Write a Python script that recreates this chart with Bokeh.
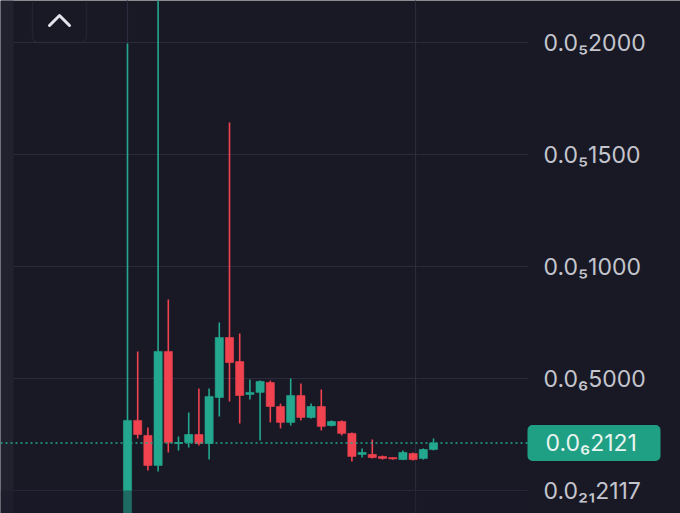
from bokeh.plotting import figure
from bokeh.models import ColumnDataSource, BoxAnnotation, Range1d
from bokeh.core.properties import value
from bokeh.embed import file_html
from bokeh.resources import INLINE

# ---------------- data (prices in units of 1e-7) ----------------
E7 = 1e-7
open_e7 = [-1.20, 3.13, 2.46, 1.12, 6.21, 2.10, 2.14, 2.50, 2.10, 4.15, 6.83,
           5.76, 4.29, 4.38, 4.82, 3.75, 3.04, 4.24, 3.26, 3.75, 2.90, 3.08,
           2.55, 1.61, 1.61, 1.52, 1.47, 1.38, 1.65, 1.43, 1.83]
close_e7 = [3.13, 2.50, 1.12, 6.21, 2.14, 2.14, 2.50, 2.10, 4.20, 6.83, 5.71,
            4.24, 4.38, 4.87, 3.75, 3.04, 4.24, 3.26, 3.75, 2.86, 3.08, 2.55,
            1.52, 1.70, 1.47, 1.43, 1.41, 1.70, 1.38, 1.83, 2.121]
high_e7 = [19.96, 6.21, 2.81, 23.00, 8.53, 2.41, 3.48, 4.55, 4.55, 7.50, 16.43,
           7.01, 4.96, 4.91, 4.91, 3.88, 5.00, 4.78, 3.88, 4.51, 3.13, 3.13,
           2.59, 1.88, 2.28, 1.56, 1.47, 1.79, 1.70, 1.88, 2.32]
low_e7 = [-1.20, 2.32, 0.89, 0.85, 1.70, 1.79, 1.92, 2.01, 1.38, 3.30, 3.97,
          2.99, 4.06, 2.23, 3.04, 2.77, 2.90, 3.13, 3.21, 2.68, 2.86, 2.46,
          1.30, 1.47, 1.43, 1.38, 1.38, 1.36, 1.34, 1.38, 1.79]
# candle is green when the close is not below the open (doji at index 5 is green)
up = [True, False, False, True, False, True, True, False, True, True, False,
      False, True, True, False, False, True, False, True, False, True, False,
      False, True, False, False, False, True, False, True, True]

tick_values = [2.117e-21, 5e-7, 1e-6, 1.5e-6, 2e-6]
tick_labels = ["0.0\u2082\u20812117", "0.0\u20865000", "0.0\u20851000",
               "0.0\u20851500", "0.0\u20852000"]
time_grid = [0, 28.24]
last_price = 2.121e-7
last_label = "0.0\u20862121"

# ---------------- style ----------------
BG = "#191926"
STRIP = "#22222f"
GRID = "#2b2b3b"
GREEN = "#23a88f"
RED = "#f0424f"
BOX = "#1f9f83"
LABEL = "#c4c5cd"
FONT = "Inter"

# ---------------- layout helpers (screen px -> data) ----------------
X0_PX, DX_PX = 127.0, 10.2          # candle 0 centre, spacing
Y0_PX, DY_PX = 490.0, 22.4 / E7     # price 0 position, px per price unit


def px_x(x):
    return (x - X0_PX) / DX_PX


def px_y(y):
    return (Y0_PX - y) / DY_PX


W, H = 680, 513
p = figure(width=W, height=H, output_backend="svg", toolbar_location=None,
           x_range=Range1d(px_x(0), px_x(W)),
           y_range=Range1d(px_y(H), px_y(0)),
           x_axis_location=None, y_axis_location=None, min_border=0,
           background_fill_color=BG, border_fill_color=BG,
           outline_line_color=None)
p.grid.visible = False

scale_x0 = px_x(527)
strip_x1 = px_x(13)

# left side strip
p.add_layout(BoxAnnotation(right=strip_x1, fill_color=STRIP, fill_alpha=1,
                           line_alpha=0, level="underlay"))

# grid lines
p.segment(x0=[strip_x1] * len(tick_values), x1=[scale_x0] * len(tick_values),
          y0=tick_values, y1=tick_values, line_color=GRID, line_width=1.2)
p.segment(x0=time_grid, x1=time_grid, y0=[px_y(600)] * 2, y1=[px_y(-50)] * 2,
          line_color=GRID, line_width=1.2)

# candles
n = len(open_e7)
src = ColumnDataSource(dict(
    x=list(range(n)),
    top=[max(o, c) * E7 for o, c in zip(open_e7, close_e7)],
    bottom=[min(o, c) * E7 for o, c in zip(open_e7, close_e7)],
    high=[h * E7 for h in high_e7],
    low=[l * E7 for l in low_e7],
    color=[GREEN if u else RED for u in up],
))
p.segment(x0="x", x1="x", y0="low", y1="high", line_color="color",
          line_width=1.6, source=src)
p.vbar(x="x", width=0.8, top="top", bottom="bottom", fill_color="color",
       line_color="color", line_width=0.6, source=src)

# faded region below zero
p.add_layout(BoxAnnotation(top=0, right=scale_x0, fill_color=BG, fill_alpha=0.42,
                           line_alpha=0))

# current price dotted line
p.segment(x0=[px_x(0)], x1=[scale_x0], y0=[last_price], y1=[last_price],
          line_color=GREEN, line_width=1.6, line_dash="2 3")

# current price box (under the text)
half = 18 / DY_PX
p.add_layout(BoxAnnotation(left=scale_x0, right=px_x(660),
                           bottom=last_price - half, top=last_price + half,
                           fill_color=BOX, fill_alpha=1, line_alpha=0,
                           border_radius=5, level="underlay"))

# price scale labels
p.text(x=[px_x(543)] * len(tick_values), y=tick_values, text=tick_labels,
       text_font=value(FONT), text_font_size="23px", text_color=LABEL,
       text_baseline="middle", text_align="left")
p.text(x=[px_x(545)], y=[last_price], text=[last_label],
       text_font=value(FONT), text_font_size="23px", text_color="#e8f4ef",
       text_baseline="middle", text_align="left")

# collapse button at the top left
p.add_layout(BoxAnnotation(left=px_x(32), right=px_x(86), bottom=px_y(42),
                           top=px_y(-10), fill_alpha=0, line_color="#3a3a4a",
                           line_width=1.5, border_radius=6, level="underlay"))
p.line(x=[px_x(49), px_x(59), px_x(69)], y=[px_y(25), px_y(15), px_y(25)],
       line_color="#e4e4ec", line_width=3, line_cap="round", line_join="round")

open("out.html", "w").write(file_html(p, INLINE))
